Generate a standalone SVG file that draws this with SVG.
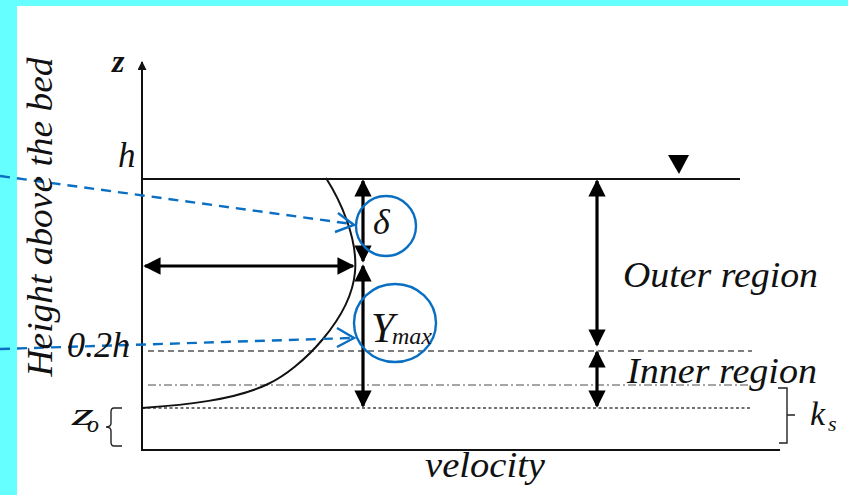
<svg xmlns="http://www.w3.org/2000/svg" width="848" height="495" viewBox="0 0 848 495">
<defs>
<style>
.t{font-family:"Liberation Serif","Times New Roman",serif;font-style:italic;fill:#111}
.ax{stroke:#111;stroke-width:2;fill:none}
.thk{stroke:#000;stroke-width:3.2;fill:none}
.blue{stroke:#0a6fc2;stroke-width:2.4;fill:none}
.bd{stroke:#0a6fc2;stroke-width:2.4;fill:none;stroke-dasharray:10 7}
</style>
<marker id="ah" viewBox="0 0 10 10" refX="9" refY="5" markerWidth="5.6" markerHeight="5.4" markerUnits="strokeWidth" orient="auto-start-reverse">
<path d="M0,0 L10,5 L0,10 Z" fill="#000"/>
</marker>
<marker id="ax" viewBox="0 0 10 10" refX="9" refY="5" markerWidth="5" markerHeight="4.5" markerUnits="strokeWidth" orient="auto">
<path d="M0,0 L10,5 L0,10 Z" fill="#111"/>
</marker>
</defs>
<rect x="0" y="0" width="848" height="495" fill="#fff"/>
<rect x="0" y="0" width="848" height="6" fill="#66ffff"/>
<rect x="0" y="0" width="17" height="495" fill="#66ffff"/>

<g id="axes">
<line class="ax" x1="142" y1="450" x2="142" y2="62" marker-end="url(#ax)"/>
<line class="ax" x1="141" y1="450" x2="780" y2="450"/>
<line class="ax" x1="142" y1="179" x2="740" y2="179"/>
<path d="M668,155 L689,155 L679,174 Z" fill="#000"/>
</g>

<g id="levels">
<line x1="148" y1="351" x2="752" y2="351" stroke="#555" stroke-width="1.3" stroke-dasharray="6 4"/>
<line x1="148" y1="385" x2="748" y2="385" stroke="#888" stroke-width="1.3" stroke-dasharray="8 3 2 3"/>
<line x1="142" y1="408" x2="752" y2="408" stroke="#444" stroke-width="1.3" stroke-dasharray="3 2.5"/>
</g>

<g id="profile">
<path class="ax" d="M326,178 C340,200 358,238 355,272 C351,318 302,368 268,384 C235,400 185,405 142,408"/>
</g>

<g id="connectors">
<line class="thk" x1="145" y1="266" x2="353" y2="266" marker-start="url(#ah)" marker-end="url(#ah)"/>
<line class="thk" x1="363" y1="181" x2="363" y2="261" marker-start="url(#ah)" marker-end="url(#ah)"/>
<line class="thk" x1="363" y1="266" x2="363" y2="406" marker-start="url(#ah)" marker-end="url(#ah)"/>
<line class="thk" x1="597" y1="181" x2="597" y2="345" marker-start="url(#ah)" marker-end="url(#ah)"/>
<line class="thk" x1="597" y1="352" x2="597" y2="406" marker-start="url(#ah)" marker-end="url(#ah)"/>
<line class="bd" x1="0" y1="176" x2="352" y2="224"/>
<path class="blue" d="M338,213 L354,225 L335,232"/>
<line class="bd" x1="0" y1="349" x2="352" y2="338"/>
<path class="blue" d="M337,328 L354,338 L337,347"/>
</g>

<g id="delta">
<circle class="blue" cx="386" cy="226" r="30"/>
<text class="t" x="373" y="234" font-size="36">δ</text>
</g>
<g id="ymax">
<ellipse class="blue" cx="395" cy="323" rx="41" ry="39"/>
<text class="t" x="371" y="342" font-size="42">Y</text>
<text class="t" x="392" y="344" font-size="24" textLength="40" lengthAdjust="spacingAndGlyphs">max</text>
</g>

<g id="labels">
<text class="t" x="112" y="72" font-size="32" font-weight="bold">z</text>
<text class="t" x="118" y="167" font-size="35">h</text>
<text class="t" x="67" y="357" font-size="36" textLength="63" lengthAdjust="spacingAndGlyphs">0.2h</text>
<text class="t" x="72" y="425" font-size="32" textLength="22" lengthAdjust="spacingAndGlyphs">z</text>
<text class="t" x="87" y="432" font-size="24">o</text>
<path d="M122,408 L114,408 Q111,408 111,412 L111,423 Q111,427 106,427 Q111,427 111,431 L111,442 Q111,446 114,446 L122,446" stroke="#222" stroke-width="1.4" fill="none"/>
<text class="t" transform="translate(52,217) rotate(-90)" font-size="36" text-anchor="middle" textLength="319" lengthAdjust="spacingAndGlyphs">Height above the bed</text>
<text class="t" x="425" y="477" font-size="36" textLength="120" lengthAdjust="spacingAndGlyphs">velocity</text>
<text class="t" x="623" y="287" font-size="36" textLength="195" lengthAdjust="spacingAndGlyphs">Outer region</text>
<text class="t" x="627" y="383" font-size="36" textLength="190" lengthAdjust="spacingAndGlyphs">Inner region</text>
<path d="M778,388 L787,388 L787,443 L779,443 M787,415 L795,415" stroke="#222" stroke-width="1.4" fill="none"/>
<text class="t" x="810" y="425" font-size="34">k</text>
<text class="t" x="828" y="431" font-size="22">s</text>
</g>
</svg>
